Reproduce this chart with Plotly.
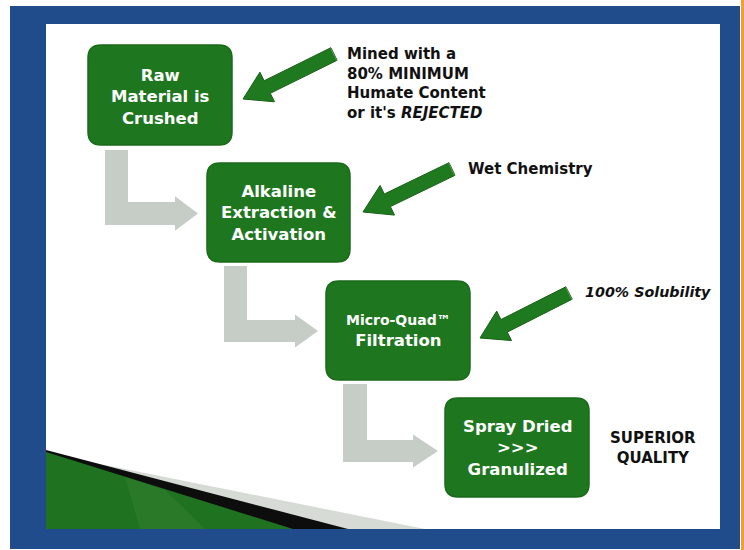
import plotly.graph_objects as go
import numpy as np

# ---- content ----
step_labels = [
    ["Raw", "Material is", "Crushed"],
    ["Alkaline", "Extraction &amp;", "Activation"],
    ["<span style='font-size:14px'>Micro-Quad™</span>", "Filtration"],
    ["Spray Dried", "&gt;&gt;&gt;", "Granulized"],
]
note_labels = [
    ["Mined with a", "80% MINIMUM", "Humate Content", "or it's <i>REJECTED</i>"],
    ["Wet Chemistry"],
    ["<i>100% Solubility</i>"],
]
result_label = ["SUPERIOR", "QUALITY"]

# ---- geometry (pixel space, y downward) ----
box_x0 = [88, 207, 326, 445]
box_x1 = [232, 350, 470, 589]
box_y0 = [45, 163, 281, 398]
box_y1 = [145, 262, 380, 497]
box_text_y = [96.5, 213, 330.5, 447.5]

# green pointer arrows: tail centre -> tip
ptr_tail = [(334, 54), (452, 169), (569, 293)]
ptr_tip = [(243, 99), (363, 212), (480, 338)]
note_x = [345, 466, 583]
note_y = [83, 169, 292]
note_size = [15, 15, 14.3]
result_x, result_y = 653, 448

# grey elbow connectors
elb_x0 = [105, 224, 343]
elb_x1 = [128, 247, 367]
elb_top = [150, 266, 384]
elb_bar0 = [202, 320, 440]
elb_bar1 = [225, 342, 462]
elb_head = [175, 295, 413]
elb_tip = [198, 318, 438]

W, H = 744, 550
FONT = "DejaVu Sans"
fig = go.Figure()
shapes = []

def rect(x0, y0, x1, y1, color):
    shapes.append(dict(type="rect", xref="x", yref="y", x0=x0, y0=y0, x1=x1, y1=y1,
                       fillcolor=color, line=dict(width=0), layer="below"))

def poly(pts, color, line_color=None, lw=0, layer="above"):
    p = "M " + " L ".join(f"{x:.1f},{y:.1f}" for x, y in pts) + " Z"
    shapes.append(dict(type="path", xref="x", yref="y", path=p, fillcolor=color,
                       line=dict(width=lw, color=line_color or color), layer=layer))

# frame
rect(10, 6, 740, 549, "#214c8b")
rect(46, 24, 720, 529, "#ffffff")
rect(741, 0, 744, 550, "#f0a030")

# bottom-left decoration
poly([(90, 462), (425, 529), (46, 529), (46, 452)], "#d6dbd6", layer="below")
poly([(46, 450), (348, 529), (46, 529)], "#0d0d0d", layer="below")
poly([(46, 452), (293, 529), (46, 529)], "#1f721f", layer="below")
poly([(125, 477), (165, 490), (205, 529), (140, 529)], "rgba(110,160,100,0.15)", layer="below")

# grey elbows
for i in range(3):
    xm = (elb_bar0[i] + elb_bar1[i]) / 2
    hh = (elb_bar1[i] - elb_bar0[i]) * 0.75
    pts = [(elb_x0[i], elb_top[i]), (elb_x1[i], elb_top[i]), (elb_x1[i], elb_bar0[i]),
           (elb_head[i], elb_bar0[i]), (elb_head[i], xm - hh), (elb_tip[i], xm),
           (elb_head[i], xm + hh), (elb_head[i], elb_bar1[i]), (elb_x0[i], elb_bar1[i])]
    poly(pts, "#c6ccc6")

# boxes (rounded)
r = 13
for i in range(4):
    x0, x1, y0, y1 = box_x0[i], box_x1[i], box_y0[i], box_y1[i]
    path = (f"M {x0+r},{y0} L {x1-r},{y0} Q {x1},{y0} {x1},{y0+r} L {x1},{y1-r} "
            f"Q {x1},{y1} {x1-r},{y1} L {x0+r},{y1} Q {x0},{y1} {x0},{y1-r} "
            f"L {x0},{y0+r} Q {x0},{y0} {x0+r},{y0} Z")
    shapes.append(dict(type="path", xref="x", yref="y", path=path, fillcolor="#1e771e",
                       line=dict(width=1.5, color="#1a6a1a")))

# green pointer arrows
for (tx, ty), (px, py) in zip(ptr_tail, ptr_tip):
    v = np.array([px - tx, py - ty], float)
    L = np.linalg.norm(v)
    u = v / L
    n = np.array([-u[1], u[0]])
    t = np.array([tx, ty], float)
    w, hw, hl = 7.0, 16.5, 27.0
    b = t + u * (L - hl)
    pts = [t + n * w, b + n * w, b + n * hw, np.array([px, py]), b - n * hw, b - n * w, t - n * w]
    poly([tuple(p) for p in pts], "#1f7a1f", "#176017", 1)
    cap = [t + n * w, t - n * w, t - n * w + u * 4 + np.array([3, -1]), t + n * w + u * 4 + np.array([3, -1])]
    poly([tuple(p) for p in cap], "#5a9a50")

annotations = []
for i in range(4):
    cx = (box_x0[i] + box_x1[i]) / 2
    annotations.append(dict(
        x=cx, y=box_text_y[i], xref="x", yref="y",
        text="<b>" + "<br>".join(step_labels[i]) + "</b>", showarrow=False,
        font=dict(family=FONT, size=16.5, color="white"), align="center"))

for i in range(3):
    annotations.append(dict(
        x=note_x[i], y=note_y[i], xref="x", yref="y",
        text="<b>" + "<br>".join(note_labels[i]) + "</b>", showarrow=False,
        xanchor="left", align="left",
        font=dict(family=FONT, size=note_size[i], color="#111111")))

annotations.append(dict(x=result_x, y=result_y, xref="x", yref="y",
                        text="<b>" + "<br>".join(result_label) + "</b>",
                        showarrow=False, align="center",
                        font=dict(family=FONT, size=15, color="#111111")))

fig.update_layout(
    width=W, height=H, margin=dict(l=0, r=0, t=0, b=0),
    paper_bgcolor="white", plot_bgcolor="white",
    xaxis=dict(range=[0, W], visible=False, fixedrange=True),
    yaxis=dict(range=[H, 0], visible=False, fixedrange=True),
    shapes=shapes, annotations=annotations, showlegend=False,
)
fig.write_html("out.html", config={"displayModeBar": False},
               post_script="document.body.style.margin='0';document.body.style.overflow='hidden';")
